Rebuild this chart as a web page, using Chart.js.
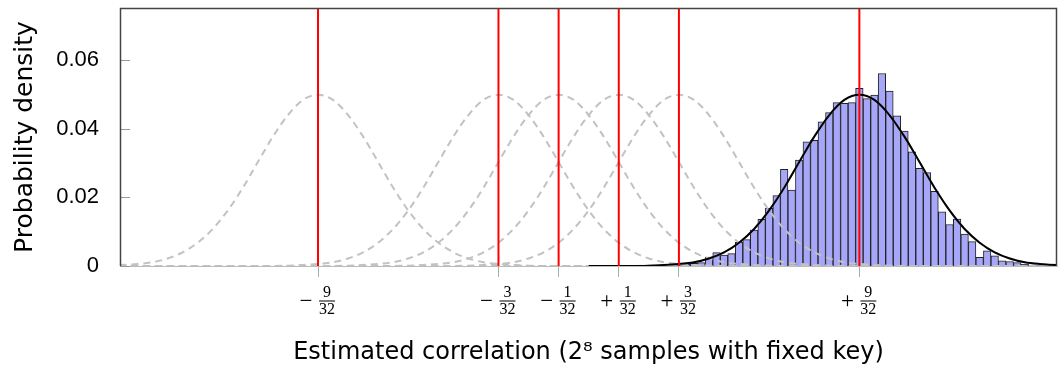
<!DOCTYPE html>
<html>
<head>
<meta charset="utf-8">
<script src="https://cdn.jsdelivr.net/npm/chart.js@4/dist/chart.umd.min.js"></script>
<style>
  html, body { margin: 0; padding: 0; background: #fff; }
  #wrap { width: 1059px; height: 367px; }
</style>
</head>
<body>
<div id="wrap"><canvas id="chart"></canvas></div>
<script>
// key hypotheses (red lines / x ticks)
const keyHypotheses = [-9 / 32, -3 / 32, -1 / 32, 1 / 32, 3 / 32, 9 / 32];
const tickSigns = ['\u2212', '\u2212', '\u2212', '+', '+', '+'];
const tickNumerators = ['9', '3', '1', '1', '3', '9'];
const tickDenominator = '32';
const correctKey = 9 / 32;

// expected density profile around a hypothesis, offsets in 1/32 units
const profileOffsets = [-25, -8, -7, -6, -5.5, -5, -4.5, -4, -3.5, -3, -2.5, -2, -1.5, -1, -0.5, 0,
  0.5, 1, 1.5, 2, 2.5, 3, 3.5, 4, 4.5, 5, 5.5, 6, 7, 8, 25];
const profileDensity = [0, 0, 0.0001, 0.0006, 0.0011, 0.0022, 0.0040, 0.0068, 0.0108, 0.0162, 0.0228,
  0.0303, 0.0377, 0.0440, 0.0484, 0.0499, 0.0484, 0.0440, 0.0377, 0.0303, 0.0228, 0.0162, 0.0108,
  0.0068, 0.0040, 0.0022, 0.0011, 0.0006, 0.0001, 0, 0];

// histogram, bins of width 1/128 starting at bin 12
const binWidth = 1 / 128;
const firstBin = 12;
const histDensity = [0.0002, 0.0005, 0.0008, 0.0010, 0.0026, 0.0039, 0.0032, 0.0036, 0.0069, 0.0077,
  0.0105, 0.0136, 0.0168, 0.0205, 0.0282, 0.0221, 0.0309, 0.0362, 0.0366, 0.0420,
  0.0447, 0.0476, 0.0474, 0.0476, 0.0518, 0.0488, 0.0498, 0.0561, 0.0510, 0.0438,
  0.0393, 0.0333, 0.0285, 0.0272, 0.0218, 0.0158, 0.0121, 0.0137, 0.0093, 0.0071,
  0.0025, 0.0044, 0.0030, 0.0015, 0.0013, 0.0010, 0.0005, 0.0003, 0.0003, 0.0002];

const yTicks = [0, 0.02, 0.04, 0.06];
const xMin = -0.487;
const xMax = 0.4866;
const yMax = 0.0752;

function profileAround(center) {
  return profileOffsets.map((o, i) => ({ x: center + o / 32, y: profileDensity[i] }));
}

const histData = histDensity.map((v, i) => ({ x: (firstBin + i) * binWidth, y: v }));

const dashedSets = keyHypotheses.map((c) => ({
  type: 'line',
  data: profileAround(c),
  borderColor: '#c2c2c2',
  borderWidth: 2,
  borderDash: [7, 5],
  pointRadius: 0,
  cubicInterpolationMode: 'monotone',
  order: 2,
}));

const correctCurve = [{ x: 0, y: 0 }].concat(profileAround(correctKey).filter((p) => p.x > 0));

const redSets = keyHypotheses.map((c) => ({
  type: 'line',
  data: [{ x: c, y: 0 }, { x: c, y: yMax }],
  borderColor: '#ff0000',
  borderWidth: 2,
  pointRadius: 0,
  order: 0,
}));

const noPadding = (scale) => {
  scale.paddingTop = 0;
  scale.paddingBottom = 0;
  scale.paddingLeft = 0;
  scale.paddingRight = 0;
};

const frame = {
  id: 'frame',
  afterDraw(chart) {
    const { ctx, chartArea: { left, top, right, bottom }, scales: { x, y } } = chart;
    ctx.save();
    // inner y ticks
    ctx.strokeStyle = '#999';
    ctx.lineWidth = 1;
    yTicks.forEach((v) => {
      const py = Math.round(y.getPixelForValue(v)) + 0.5;
      ctx.beginPath();
      ctx.moveTo(left, py);
      ctx.lineTo(left + 10, py);
      ctx.stroke();
    });
    ctx.strokeStyle = '#444';
    ctx.lineWidth = 1.5;
    ctx.beginPath();
    ctx.moveTo(left + 0.5, bottom);
    ctx.lineTo(left + 0.5, top + 0.5);
    ctx.lineTo(right - 0.5, top + 0.5);
    ctx.lineTo(right - 0.5, bottom);
    ctx.stroke();

    // fraction tick labels
    ctx.fillStyle = '#000';
    ctx.textAlign = 'center';
    ctx.textBaseline = 'alphabetic';
    keyHypotheses.forEach((value, i) => {
      const px = x.getPixelForValue(value);
      ctx.font = '23px "Liberation Serif"';
      ctx.fillText(tickSigns[i], px - 12, 308);
      ctx.font = '16px "Liberation Serif"';
      ctx.fillText(tickNumerators[i], px + 9, 297);
      ctx.fillText(tickDenominator, px + 9, 314);
      ctx.fillRect(px + 1, 300.5, 16, 1);
    });
    ctx.restore();
  },
};

new Chart(document.getElementById('chart'), {
  type: 'line',
  data: {
    datasets: [
      ...redSets,
      {
        type: 'line',
        data: correctCurve,
        borderColor: '#000',
        borderWidth: 2,
        pointRadius: 0,
        cubicInterpolationMode: 'monotone',
        order: 1,
      },
      ...dashedSets,
      {
        type: 'bar',
        data: histData,
        backgroundColor: '#a7a7fa',
        borderColor: '#222',
        borderWidth: 1,
        barPercentage: 1,
        categoryPercentage: 1,
        order: 3,
      },
    ],
  },
  plugins: [frame],
  options: {
    responsive: true,
    maintainAspectRatio: false,
    animation: false,
    layout: { padding: { top: 8, right: 2, left: 0, bottom: 0 } },
    plugins: {
      legend: { display: false },
      tooltip: { enabled: false },
    },
    scales: {
      x: {
        type: 'linear',
        min: xMin,
        max: xMax,
        offset: false,
        afterBuildTicks: (scale) => {
          scale.ticks = keyHypotheses.map((v) => ({ value: v }));
        },
        afterFit: (scale) => {
          scale.height = 101;
          noPadding(scale);
        },
        ticks: { callback: () => '', autoSkip: false },
        grid: {
          offset: false,
          drawOnChartArea: false,
          drawTicks: true,
          tickLength: 11,
          color: '#aaa',
        },
        border: { display: true, color: '#bbb', width: 1 },
        title: {
          display: true,
          text: 'Estimated correlation (2\u2078 samples with fixed key)',
          font: { family: '"DejaVu Sans"', size: 24 },
          color: '#000',
          padding: { top: 5, bottom: 0 },
        },
      },
      y: {
        min: 0,
        max: yMax,
        afterBuildTicks: (scale) => {
          scale.ticks = yTicks.map((v) => ({ value: v }));
        },
        afterFit: (scale) => {
          scale.width = 120;
          noPadding(scale);
        },
        ticks: {
          padding: 21,
          color: '#000',
          font: { family: '"Liberation Sans"', size: 22 },
          callback: (v) => (v === 0 ? '0' : v.toFixed(2)),
        },
        grid: { display: false, drawTicks: false },
        border: { display: false },
        title: {
          display: true,
          text: 'Probability density',
          font: { family: '"DejaVu Sans"', size: 25 },
          color: '#000',
          padding: { top: 10, bottom: 0 },
        },
      },
    },
  },
});
</script>
</body>
</html>
